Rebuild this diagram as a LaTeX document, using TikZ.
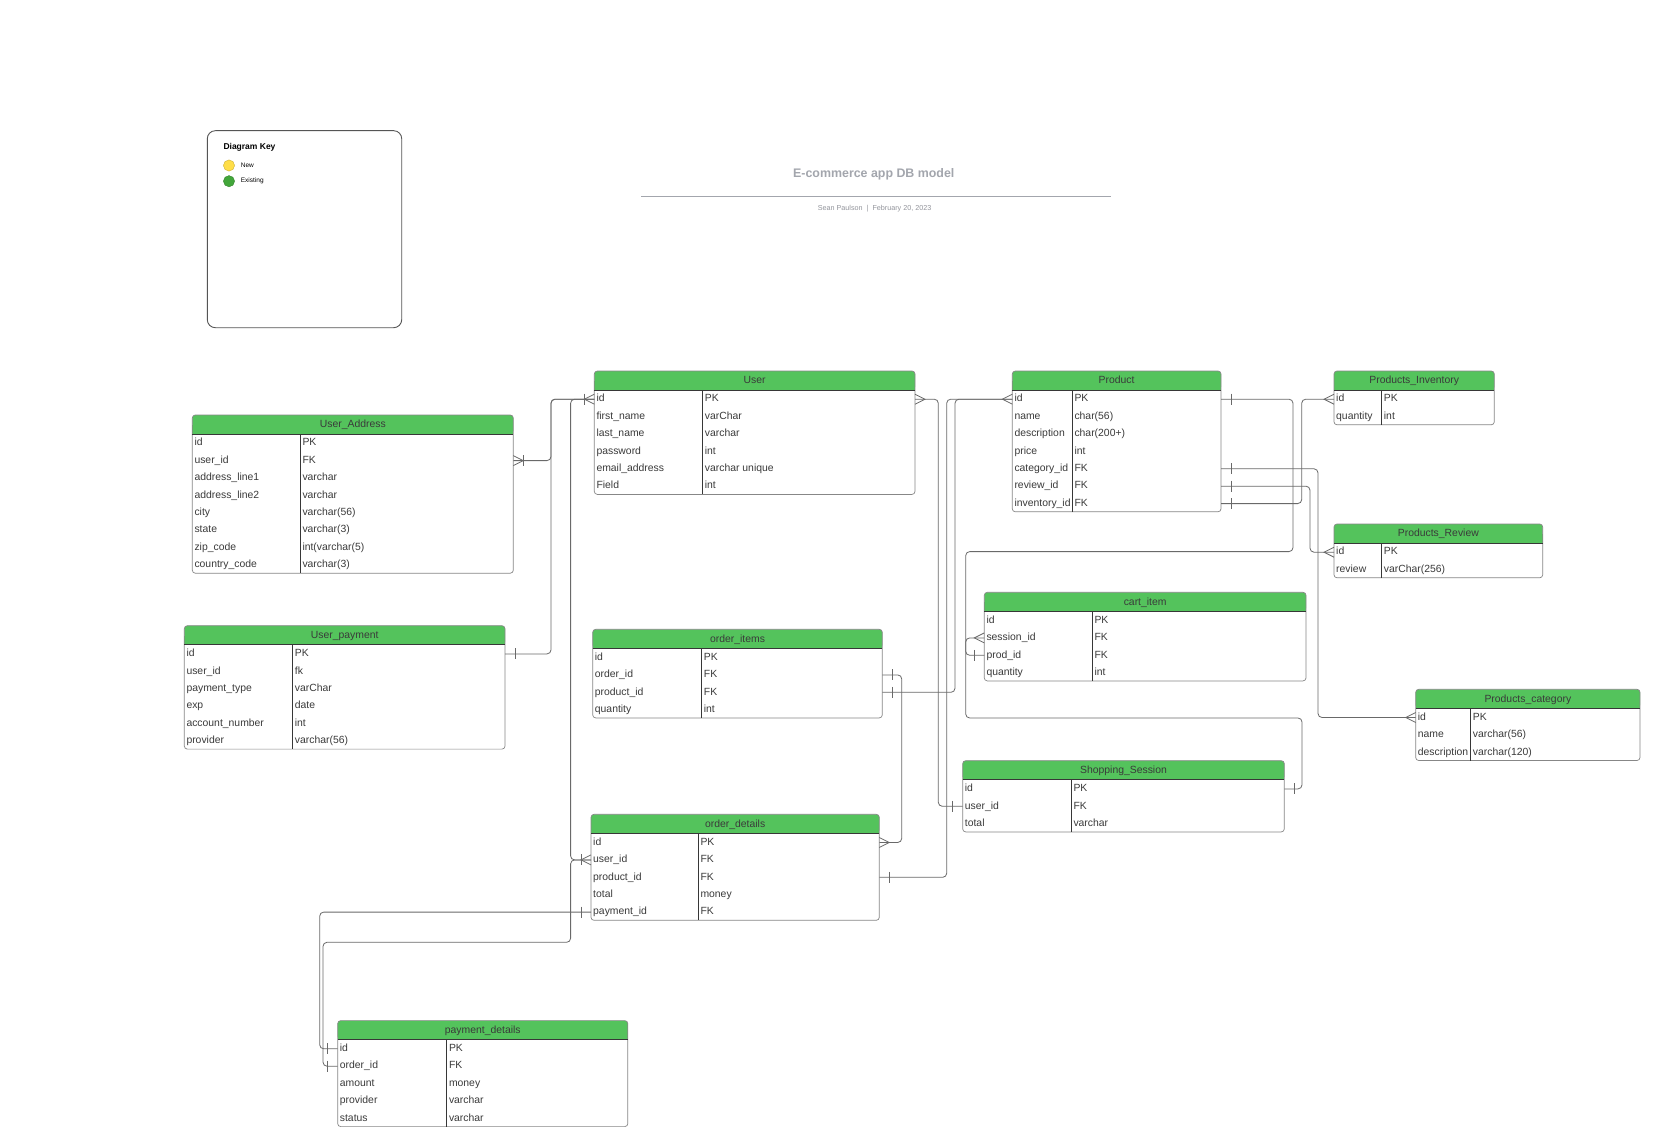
\documentclass[tikz,border=0pt]{standalone}
\usepackage{fontspec}
\setmainfont{Liberation Sans}

\definecolor{hdr}{RGB}{84,195,92}
\definecolor{txt}{RGB}{58,58,58}
\definecolor{edge}{RGB}{135,135,135}
\definecolor{dark}{RGB}{55,55,55}
\definecolor{wire}{RGB}{105,105,105}
\definecolor{ttl}{RGB}{163,166,173}
\definecolor{keyyellow}{RGB}{255,222,72}
\definecolor{keygreen}{RGB}{66,166,58}

\tikzset{
  conn/.style={draw=wire, line width=0.8pt, rounded corners=4pt},
  tick/.style={draw=wire, line width=0.8pt, sharp corners},
  crowR/.pic={\draw[tick] (0,-5)--(10,0)--(0,5);},
  crowL/.pic={\draw[tick] (0,-5)--(-10,0)--(0,5);},
  barR/.pic={\draw[tick] (10,-5.5)--(10,5.5);},
  barL/.pic={\draw[tick] (-10,-5.5)--(-10,5.5);},
  rowtxt/.style={anchor=west, inner sep=0pt, text=txt,
    font=\fontsize{10.4}{12}\selectfont, text height=7.6pt, text depth=2.2pt},
  hdrtxt/.style={inner sep=0pt, text=txt,
    font=\fontsize{10.4}{12}\selectfont, text height=7.6pt, text depth=2.2pt},
}

% entity table: #1 name, #2 left, #3 top, #4 right, #5 divider x,
% #6 number of rows, #7 title, #8 list of field/type pairs
\newcommand\erdtab[8]{%
  \pgfmathsetmacro\erdbottom{#3+19+17.4*#6}
  \fill[hdr, rounded corners=3pt] (#2,#3) rectangle (#4,#3+19);
  \fill[hdr] (#2,#3+10) rectangle (#4,#3+19);
  \draw[edge, line width=0.7pt, rounded corners=3pt] (#2,#3) rectangle (#4,\erdbottom);
  \draw[dark, line width=0.8pt] (#2,#3+19) -- (#4,#3+19);
  \draw[dark, line width=0.8pt] (#5,#3+19) -- (#5,\erdbottom);
  \node[hdrtxt] (#1-title) at ({(#2+#4)/2},#3+10) {#7};
  \foreach \fa/\ty [count=\i] in {#8}{%
    \pgfmathsetmacro\ry{#3+19.5+17.4*(\i-0.5)}
    \coordinate (#1-\i-L) at (#2,\ry);
    \coordinate (#1-\i-R) at (#4,\ry);
    \node[rowtxt] (#1-\i-f) at (#2+2,\ry) {\fa};
    \node[rowtxt] (#1-\i-t) at (#5+2,\ry) {\ty};
  }%
}

\begin{document}
\begin{tikzpicture}[x=1pt, y=-1pt]
\path[use as bounding box, fill=white] (0,0) rectangle (1660,1145);

% heading
\node[inner sep=0pt, text=ttl, font=\fontsize{12.4}{14}\bfseries] (heading) at (873.8,174.3) {E-commerce app DB model};
\coordinate (ruleL) at (641,196);
\coordinate (ruleR) at (1111,196);
\draw[ttl, line width=1pt] (ruleL) -- (ruleR);
\node[inner sep=0pt, text=ttl!90!black, font=\fontsize{7.2}{9}\selectfont] (byline) at (874.6,208.3) {Sean Paulson~~|~~February 20, 2023};

% key
\draw[dark!85, line width=0.9pt, rounded corners=8pt] (207.3,130.7) rectangle (401.7,327.7);
\node[anchor=west, inner sep=0pt, font=\fontsize{8.5}{10}\bfseries] (keytitle) at (223.3,147.7) {Diagram Key};
\filldraw[fill=keyyellow, draw=keyyellow!80!black, line width=0.4pt] (229,165.5) circle (5.6);
\filldraw[fill=keygreen, draw=keygreen!80!black, line width=0.4pt] (229,181.2) circle (5.6);
\node[anchor=west, inner sep=0pt, font=\fontsize{6.5}{8}\selectfont] (keynew) at (240.7,165.3) {New};
\node[anchor=west, inner sep=0pt, font=\fontsize{6.5}{8}\selectfont] (keyold) at (240.7,181.1) {Existing};

% tables
\erdtab{ua}{192.3}{415}{513.3}{300.3}{8}{User\_Address}{id/PK, user\_id/FK, address\_line1/varchar, address\_line2/varchar, city/varchar(56), state/varchar(3), zip\_code/int(varchar(5), country\_code/varchar(3)}
\erdtab{user}{594.3}{371}{915}{702.7}{6}{User}{id/PK, first\_name/varChar, last\_name/varchar, password/int, email\_address/varchar unique, Field/int}
\erdtab{prod}{1012.3}{371}{1221}{1072.3}{7}{Product}{id/PK, name/char(56), description/char(200+), price/int, category\_id/FK, review\_id/FK, inventory\_id/FK}
\erdtab{pi}{1334}{371}{1494.3}{1381.7}{2}{Products\_Inventory}{id/PK, quantity/int}
\erdtab{pr}{1334}{524}{1542.7}{1381.7}{2}{Products\_Review}{id/PK, review/varChar(256)}
\erdtab{pc}{1415.7}{689.3}{1640}{1470.7}{3}{Products\_category}{id/PK, name/varchar(56), description/varchar(120)}
\erdtab{cart}{984.3}{592.3}{1306}{1092.3}{4}{cart\_item}{id/PK, session\_id/FK, prod\_id/FK, quantity/int}
\erdtab{ss}{962.7}{760.7}{1284.3}{1071.3}{3}{Shopping\_Session}{id/PK, user\_id/FK, total/varchar}
\erdtab{oi}{592.7}{629.3}{882.3}{701.7}{4}{order\_items}{id/PK, order\_id/FK, product\_id/FK, quantity/int}
\erdtab{od}{591}{814.3}{879.3}{698.3}{5}{order\_details}{id/PK, user\_id/FK, product\_id/FK, total/money, payment\_id/FK}
\erdtab{up}{184.3}{625.7}{505}{292.7}{6}{User\_payment}{id/PK, user\_id/fk, payment\_type/varChar, exp/date, account\_number/int, provider/varchar(56)}
\erdtab{pd}{337.7}{1020.6}{627.8}{446.8}{5}{payment\_details}{id/PK, order\_id/FK, amount/money, provider/varchar, status/varchar}

% relationships
\draw[conn] (ua-2-R) -- ++(37.7,0) |- (user-1-L);
\draw[conn] (up-1-R) -- ++(46,0) |- (user-1-L);
\draw[conn] (od-2-L) -- ++(-20.4,0) |- (user-1-L);
\draw[conn] (pd-2-L) -- ++(-14.7,0) |- (570.6,942.3) |- (od-2-L);
\draw[conn] (od-5-L) -| ([xshift=-18pt]pd-1-L) -- (pd-1-L);
\draw[conn] (user-1-R) -- ++(23.3,0) |- (ss-2-L);
\draw[conn] (oi-2-R) -- ++(19.4,0) |- (od-1-R);
\draw[conn] (oi-3-R) -- ++(72.7,0) |- (prod-1-L);
\draw[conn] (od-3-R) -- ++(67.4,0) |- (prod-1-L);
\draw[conn] (prod-1-R) -- ++(72,0) |- (965.7,551.6) |- (1302,718) |- (ss-1-R);
\draw[conn] (cart-2-L) -- ++(-18.6,0) |- (cart-3-L);
\draw[conn] (prod-5-R) -- ++(97,0) |- (pc-1-L);
\draw[conn] (prod-6-R) -- ++(89,0) |- (pr-1-L);
\draw[conn] (prod-7-R) -- ++(80.7,0) |- (pi-1-L);

% cardinality marks
\pic at (ua-2-R) {crowR}; \pic at (ua-2-R) {barR};
\pic at (user-1-L) {crowL}; \pic at (user-1-L) {barL};
\pic at (up-1-R) {barR};
\pic at (od-2-L) {crowL}; \pic at (od-2-L) {barL};
\pic at (pd-2-L) {barL};
\pic at (od-5-L) {barL};
\pic at (pd-1-L) {barL};
\pic at (user-1-R) {crowR};
\pic at (ss-2-L) {barL};
\pic at (oi-2-R) {barR};
\pic at (od-1-R) {crowR};
\pic at (oi-3-R) {barR};
\pic at (prod-1-L) {crowL};
\pic at (od-3-R) {barR};
\pic at (prod-1-R) {barR};
\pic at (ss-1-R) {barR};
\pic at (cart-2-L) {crowL};
\pic at (cart-3-L) {barL};
\pic at (prod-5-R) {barR};
\pic at (pc-1-L) {crowL};
\pic at (prod-6-R) {barR};
\pic at (pr-1-L) {crowL};
\pic at (prod-7-R) {barR};
\pic at (pi-1-L) {crowL};
\end{tikzpicture}
\end{document}
